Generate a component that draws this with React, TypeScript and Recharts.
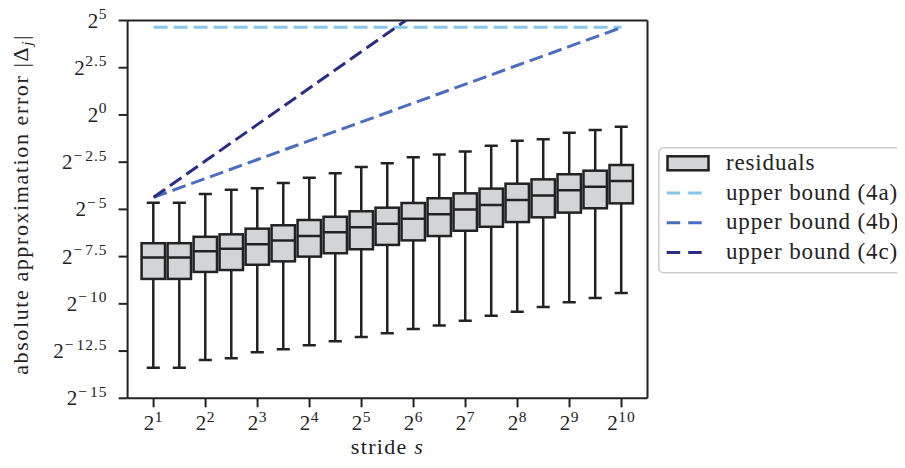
import React from 'react';
import { ComposedChart, Bar, Line, XAxis, YAxis, ReferenceLine, Legend } from 'recharts';

// log2 of the stride for every box
const strideLog2 = [1, 1.5, 2, 2.5, 3, 3.5, 4, 4.5, 5, 5.5, 6, 6.5, 7, 7.5, 8, 8.5, 9, 9.5, 10];

// box plot stats, log2 of the absolute error
const whiskerHigh = [-4.65, -4.65, -4.18, -3.96, -3.88, -3.6, -3.32, -3.09, -2.76, -2.56, -2.24, -2.1, -1.94, -1.63, -1.36, -1.29, -0.94, -0.8, -0.62];
const q3 = [-6.79, -6.79, -6.45, -6.32, -6.02, -5.84, -5.56, -5.39, -5.1, -4.91, -4.66, -4.41, -4.15, -3.9, -3.64, -3.41, -3.14, -2.95, -2.65];
const median = [-7.54, -7.54, -7.22, -7.08, -6.85, -6.64, -6.41, -6.21, -5.95, -5.76, -5.49, -5.26, -5.0, -4.77, -4.5, -4.27, -3.99, -3.8, -3.5];
const q1 = [-8.68, -8.68, -8.31, -8.21, -7.93, -7.75, -7.5, -7.32, -7.11, -6.88, -6.64, -6.41, -6.13, -5.92, -5.67, -5.42, -5.17, -4.94, -4.68];
const whiskerLow = [-13.38, -13.38, -12.97, -12.88, -12.56, -12.41, -12.19, -11.98, -11.75, -11.56, -11.33, -11.14, -10.89, -10.63, -10.42, -10.17, -9.92, -9.69, -9.43];

// upper bounds, sampled at the integer strides
const boundStride = [1, 2, 3, 4, 5, 6, 7, 8, 9, 10];
const bound4a = [4.64, 4.64, 4.64, 4.64, 4.64, 4.64, 4.64, 4.64, 4.64, 4.64];
const bound4b = [-4.36, -3.36, -2.36, -1.36, -0.37, 0.63, 1.63, 2.63, 3.63, 4.63];
const bound4c = [-4.36, -2.43, -0.5, 1.43, 3.36, 5.29];

const xTicks = [1, 2, 3, 4, 5, 6, 7, 8, 9, 10];
const yTicks = [-15, -12.5, -10, -7.5, -5, -2.5, 0, 2.5, 5];

const FONT = 'Liberation Serif, serif';
const INK = '#222222';
const BOX_FILL = '#d3d4d6';
const C4A = '#87c6ea';
const C4B = '#4a6ebf';
const C4C = '#2b2d85';

const rows = strideLog2.map((s, i) => {
  const k = boundStride.indexOf(s);
  return {
    s,
    low: whiskerLow[i],
    q1: q1[i],
    med: median[i],
    q3: q3[i],
    high: whiskerHigh[i],
    b4a: k >= 0 ? bound4a[k] : null,
    b4b: k >= 0 ? bound4b[k] : null,
    b4c: k >= 0 && k < bound4c.length ? bound4c[k] : null,
  };
});

// "2" with the exponent raised, minus sign a little wider like mathtext
const Power = ({ v }: { v: number }) => (
  <>
    <tspan>2</tspan>
    {v < 0 ? (
      <>
        <tspan dy={-8.5} dx={1} fontSize={15.5}>{'\u2212'}</tspan>
        <tspan dx={3} fontSize={15.5} letterSpacing={1}>{String(Math.abs(v))}</tspan>
      </>
    ) : (
      <tspan dy={-8.5} dx={0.5} fontSize={15.5} letterSpacing={1}>{String(v)}</tspan>
    )}
  </>
);

const XTick = (props: any) => {
  const { x, y, payload } = props;
  return (
    <text x={x} y={y + 21} textAnchor="middle" fontFamily={FONT} fontSize={21} fill={INK}>
      <Power v={payload.value} />
    </text>
  );
};

const YTick = (props: any) => {
  const { x, y, payload } = props;
  return (
    <text x={x - 9} y={y + 7} textAnchor="end" fontFamily={FONT} fontSize={21} fill={INK}>
      <Power v={payload.value} />
    </text>
  );
};

const YLabel = (props: any) => {
  const { viewBox } = props;
  const cx = viewBox.x + 20.5;
  const cy = viewBox.y + viewBox.height / 2 - 5;
  return (
    <text
      x={cx}
      y={cy}
      transform={`rotate(-90, ${cx}, ${cy})`}
      textAnchor="middle"
      fontFamily={FONT}
      fontSize={22}
      letterSpacing={1.6}
      fill={INK}
    >
      <tspan>absolute approximation error |Δ</tspan>
      <tspan dy={4} fontSize={15} fontStyle="italic">j</tspan>
      <tspan dy={-4}>|</tspan>
    </text>
  );
};

const XLabel = (props: any) => {
  const { viewBox } = props;
  const cx = viewBox.x + viewBox.width / 2;
  return (
    <text
      x={cx}
      y={viewBox.y + 56}
      textAnchor="middle"
      fontFamily={FONT}
      fontSize={22}
      letterSpacing={1.3}
      fill={INK}
    >
      <tspan>stride </tspan>
      <tspan fontStyle="italic">s</tspan>
    </text>
  );
};

// one bar spans whisker low..high; the box and median are placed on the same scale
const BoxShape = (props: any) => {
  const { x, y, width, height, payload } = props;
  const top = Math.min(y, y + height);
  const bottom = Math.max(y, y + height);
  const span = payload.high - payload.low;
  const py = (v: number) => top + ((payload.high - v) / span) * (bottom - top);
  const cx = x + width / 2;
  const cap = width * 0.56;
  const yq3 = py(payload.q3);
  const yq1 = py(payload.q1);
  const ym = py(payload.med);
  return (
    <g stroke={INK} strokeWidth={2.5}>
      <line x1={cx} x2={cx} y1={top} y2={yq3} />
      <line x1={cx} x2={cx} y1={yq1} y2={bottom} />
      <line x1={cx - cap / 2} x2={cx + cap / 2} y1={top} y2={top} />
      <line x1={cx - cap / 2} x2={cx + cap / 2} y1={bottom} y2={bottom} />
      <rect x={x} y={yq3} width={width} height={yq1 - yq3} fill={BOX_FILL} />
      <line x1={x} x2={x + width} y1={ym} y2={ym} />
    </g>
  );
};

const legendItems = [
  { label: 'residuals', color: '' },
  { label: 'upper bound (4a)', color: C4A },
  { label: 'upper bound (4b)', color: C4B },
  { label: 'upper bound (4c)', color: C4C },
];

const renderLegend = () => (
  <svg width={252} height={127} style={{ display: 'block' }}>
    <rect x={0.75} y={0.75} width={250.5} height={125} rx={5} fill="#ffffff" stroke="#cccccc" strokeWidth={1.5} />
    {legendItems.map((item, i) => {
      const cy = 16.3 + i * 29.7;
      return (
        <g key={item.label}>
          {item.color ? (
            <line x1={8.7} x2={46} y1={cy} y2={cy} stroke={item.color} strokeWidth={3} strokeDasharray="13.5 8" />
          ) : (
            <rect x={9.5} y={cy - 7} width={41} height={14} fill={BOX_FILL} stroke={INK} strokeWidth={2.5} />
          )}
          <text x={68} y={cy + 6.5} fontFamily={FONT} fontSize={23} letterSpacing={0.85} fill={INK}>
            {item.label}
          </text>
        </g>
      );
    })}
  </svg>
);

export default function App() {
  // pull the chart over the body margin so the top tick label has room
  return (
    <div style={{ width: 905, height: 468, overflow: 'hidden', margin: '-8px 0 0 -8px' }}>
      <ComposedChart
        width={905}
        height={468}
        data={rows}
        margin={{ top: 20.5, right: 257.5, bottom: 9.7, left: 8 }}
      >
        <XAxis
          dataKey="s"
          type="number"
          domain={[0.5, 10.5]}
          ticks={xTicks}
          allowDataOverflow
          height={60}
          tickSize={9}
          tick={<XTick />}
          axisLine={{ stroke: INK, strokeWidth: 2 }}
          tickLine={{ stroke: INK, strokeWidth: 2 }}
          label={<XLabel />}
        />
        <YAxis
          type="number"
          domain={[-15, 5]}
          ticks={yTicks}
          allowDataOverflow
          width={119.6}
          tickSize={9}
          tick={<YTick />}
          axisLine={{ stroke: INK, strokeWidth: 2 }}
          tickLine={{ stroke: INK, strokeWidth: 2 }}
          label={<YLabel />}
        />
        <ReferenceLine y={5} stroke={INK} strokeWidth={2} />
        <ReferenceLine x={10.5} stroke={INK} strokeWidth={2} />
        <Bar
          dataKey={(d: any) => [d.low, d.high]}
          name="residuals"
          barSize={26}
          shape={<BoxShape />}
          isAnimationActive={false}
        />
        <Line
          dataKey="b4a"
          name="upper bound (4a)"
          type="linear"
          stroke={C4A}
          strokeWidth={3}
          strokeDasharray="14 6"
          dot={false}
          connectNulls
          isAnimationActive={false}
        />
        <Line
          dataKey="b4b"
          name="upper bound (4b)"
          type="linear"
          stroke={C4B}
          strokeWidth={3}
          strokeDasharray="14 6"
          dot={false}
          connectNulls
          isAnimationActive={false}
        />
        <Line
          dataKey="b4c"
          name="upper bound (4c)"
          type="linear"
          stroke={C4C}
          strokeWidth={3}
          strokeDasharray="14 6"
          dot={false}
          connectNulls
          isAnimationActive={false}
        />
        <Legend
          layout="vertical"
          align="center"
          verticalAlign="middle"
          wrapperStyle={{ left: 658, top: 147, width: 252 }}
          content={renderLegend}
        />
      </ComposedChart>
    </div>
  );
}
